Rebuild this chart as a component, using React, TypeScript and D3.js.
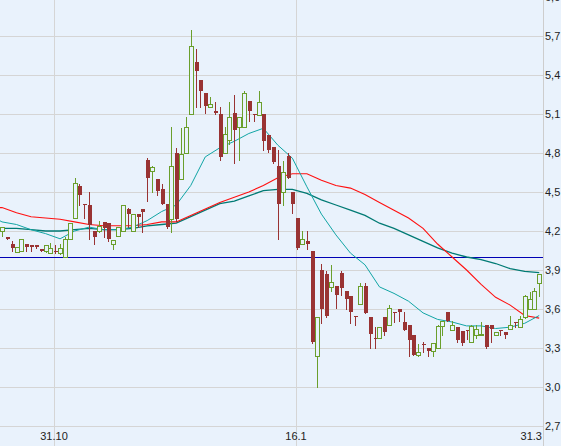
import * as d3 from 'd3';

// daily candles, oldest first (price in EUR)
const opens = [
  4.20, 4.15, 4.10, 4.04, 4.05, 4.10, 4.09, 4.09, 4.06, 4.05,
  4.03, 4.05, 4.03, 4.00, 4.14, 4.30, 4.55, 4.41, 4.40, 4.20,
  4.20, 4.27, 4.26, 4.10, 4.16, 4.20, 4.37, 4.20, 4.33, 4.37,
  4.75, 4.66, 4.60, 4.52, 4.41, 4.29, 4.80, 4.60, 4.80, 5.10,
  5.50, 5.36, 5.26, 5.15, 5.12, 5.10, 4.80, 4.90, 5.11, 5.00,
  5.00, 5.20, 5.10, 5.09, 5.10, 4.94, 4.85, 4.70, 4.50, 4.78,
  4.50, 4.30, 4.10, 4.12, 4.05, 3.24, 3.90, 3.87, 3.77, 3.78,
  3.88, 3.74, 3.70, 3.55, 3.64, 3.78, 3.54, 3.38, 3.38, 3.54,
  3.48, 3.58, 3.60, 3.50, 3.48, 3.40, 3.25, 3.33, 3.30, 3.28,
  3.30, 3.47, 3.58, 3.44, 3.46, 3.43, 3.44, 3.35, 3.40, 3.40,
  3.48, 3.48, 3.40, 3.44, 3.42, 3.45, 3.50, 3.46, 3.54, 3.60,
  3.60, 3.80,
];
const highs = [
  4.23, 4.15, 4.12, 4.08, 4.14, 4.10, 4.09, 4.09, 4.06, 4.09,
  4.11, 4.09, 4.10, 4.15, 4.26, 4.61, 4.56, 4.41, 4.50, 4.20,
  4.28, 4.27, 4.26, 4.13, 4.23, 4.40, 4.38, 4.33, 4.33, 4.37,
  4.76, 4.70, 4.60, 4.56, 4.41, 5.00, 4.84, 4.99, 5.08, 5.75,
  5.60, 5.36, 5.26, 5.23, 5.19, 5.15, 5.00, 5.19, 5.25, 5.08,
  5.28, 5.20, 5.10, 5.28, 5.10, 4.94, 4.85, 4.82, 4.74, 4.80,
  4.50, 4.30, 4.20, 4.20, 4.05, 3.54, 3.95, 3.89, 3.94, 3.78,
  3.89, 3.74, 3.70, 3.55, 3.80, 3.80, 3.54, 3.46, 3.46, 3.54,
  3.63, 3.58, 3.60, 3.58, 3.48, 3.40, 3.33, 3.35, 3.30, 3.34,
  3.48, 3.51, 3.58, 3.51, 3.46, 3.43, 3.44, 3.48, 3.48, 3.50,
  3.48, 3.48, 3.42, 3.44, 3.42, 3.55, 3.50, 3.55, 3.71, 3.73,
  3.76, 3.87,
];
const lows = [
  4.16, 4.14, 4.05, 4.04, 4.05, 4.05, 4.05, 4.07, 4.05, 4.04,
  4.03, 4.03, 4.02, 4.00, 4.14, 4.30, 4.40, 4.30, 4.14, 4.10,
  4.19, 4.15, 4.12, 4.06, 4.16, 4.20, 4.23, 4.20, 4.23, 4.19,
  4.43, 4.50, 4.48, 4.41, 4.22, 4.19, 4.28, 4.60, 4.80, 5.10,
  5.15, 5.15, 5.11, 5.15, 5.10, 4.75, 4.80, 4.87, 4.72, 4.75,
  5.00, 5.05, 5.05, 5.09, 4.82, 4.81, 4.72, 4.14, 4.40, 4.61,
  4.34, 4.06, 4.10, 4.06, 3.34, 3.00, 3.49, 3.54, 3.74, 3.61,
  3.71, 3.60, 3.49, 3.48, 3.64, 3.57, 3.30, 3.30, 3.38, 3.40,
  3.48, 3.50, 3.51, 3.44, 3.24, 3.25, 3.24, 3.27, 3.24, 3.24,
  3.30, 3.40, 3.51, 3.44, 3.35, 3.32, 3.37, 3.35, 3.38, 3.40,
  3.30, 3.35, 3.40, 3.40, 3.38, 3.45, 3.46, 3.46, 3.53, 3.60,
  3.60, 3.70,
];
const closes = [
  4.23, 4.14, 4.07, 4.08, 4.14, 4.08, 4.08, 4.08, 4.05, 4.09,
  4.07, 4.04, 4.07, 4.14, 4.26, 4.57, 4.48, 4.40, 4.25, 4.15,
  4.24, 4.22, 4.14, 4.13, 4.23, 4.40, 4.33, 4.33, 4.31, 4.35,
  4.61, 4.69, 4.51, 4.41, 4.23, 4.70, 4.29, 4.79, 5.00, 5.62,
  5.43, 5.28, 5.16, 5.18, 5.11, 4.77, 4.95, 5.08, 4.98, 5.08,
  5.26, 5.12, 5.09, 5.19, 4.89, 4.82, 4.73, 4.41, 4.65, 4.61,
  4.41, 4.07, 4.14, 4.10, 3.35, 3.54, 3.60, 3.55, 3.81, 3.71,
  3.76, 3.68, 3.58, 3.54, 3.78, 3.57, 3.41, 3.37, 3.46, 3.42,
  3.61, 3.57, 3.58, 3.44, 3.36, 3.25, 3.27, 3.32, 3.28, 3.34,
  3.47, 3.51, 3.51, 3.48, 3.36, 3.34, 3.43, 3.47, 3.45, 3.41,
  3.31, 3.45, 3.42, 3.43, 3.40, 3.48, 3.49, 3.52, 3.70, 3.68,
  3.74, 3.87,
];

// moving averages, read at every third session
const maIndex = [
  -0.5, 0, 3, 6, 9, 12, 15, 18, 21, 24, 27, 30, 33, 36, 39, 42, 45, 48, 51,
  54, 57, 60, 63, 66, 69, 72, 75, 78, 81, 84, 87, 90, 93, 96, 99, 102, 105, 108, 111,
];
const maRed = [
  4.38, 4.38, 4.34, 4.31, 4.30, 4.29, 4.27, 4.25, 4.24, 4.24, 4.24, 4.25, 4.27, 4.27, 4.32,
  4.37, 4.42, 4.46, 4.50, 4.55, 4.61, 4.64, 4.64, 4.59, 4.55, 4.53, 4.48, 4.42, 4.36,
  4.30, 4.22, 4.10, 4.00, 3.90, 3.79, 3.69, 3.63, 3.55, 3.53,
];
const maLong = [
  4.22, 4.22, 4.22, 4.21, 4.20, 4.20, 4.21, 4.22, 4.21, 4.21, 4.22, 4.24, 4.25, 4.26, 4.31,
  4.36, 4.41, 4.43, 4.47, 4.51, 4.52, 4.52, 4.49, 4.44, 4.40, 4.36, 4.32, 4.26, 4.22,
  4.17, 4.12, 4.07, 4.03, 4.00, 3.98, 3.95, 3.91, 3.89, 3.88,
];
const maShort = [
  4.28, 4.27, 4.25, 4.21, 4.18, 4.14, 4.20, 4.23, 4.21, 4.21, 4.23, 4.28, 4.35, 4.40, 4.55,
  4.77, 4.84, 4.89, 4.95, 4.99, 4.86, 4.76, 4.54, 4.33, 4.17, 4.03, 3.94, 3.77, 3.72,
  3.66, 3.57, 3.52, 3.50, 3.47, 3.47, 3.45, 3.46, 3.49, 3.55,
];

const levelPrice = 4.0;
const yTickValues = [2.7, 3.0, 3.3, 3.6, 3.9, 4.2, 4.5, 4.8, 5.1, 5.4, 5.7, 6.0];
const xTickLabels = ['31.10', '16.1', '31.3'];
const xTickIndex = [10.75, 60.75, 110.75];

const W = 561;
const H = 446;
const axisX = 543;
const plotBottom = 426;

const UP = '#6a9f2c';
const DOWN = '#993333';

export default function App() {
  const x = d3.scaleLinear().domain([0, 111]).range([2, 539.2]);
  const y = d3.scaleLinear().domain([2.7, 6.0]).range([plotBottom, -3]);
  const fmt = d3.format('.1f');

  const maLine = (vals: number[]) =>
    d3.line<number>()
      .x((_, i) => x(maIndex[i]))
      .y(d => y(d))(vals) || '';

  const candles = opens.map((o, i) => {
    const c = closes[i];
    const up = c >= o;
    const cx = Math.round(x(i));
    const top = Math.round(y(Math.max(o, c)));
    const bot = Math.round(y(Math.min(o, c)));
    return { i, up, cx, top, bot, hi: Math.round(y(highs[i])), lo: Math.round(y(lows[i])) };
  });

  return (
    <svg width={W} height={H} style={{ position: 'absolute', left: 0, top: 0, display: 'block' }}
      fontFamily="'Liberation Sans', Arial, sans-serif">
      <defs>
        <clipPath id="plot">
          <rect x={0} y={0} width={axisX} height={plotBottom + 1} />
        </clipPath>
      </defs>
      <rect width={W} height={H} fill="#e9f2fc" />

      {/* grid */}
      <g shapeRendering="crispEdges" stroke="#d5d5d5" strokeWidth={1}>
        {yTickValues.map(v => (
          <line key={v} x1={0} x2={axisX} y1={Math.round(y(v)) + 0.5} y2={Math.round(y(v)) + 0.5} />
        ))}
        {xTickIndex.filter(t => x(t) < axisX - 8).map(t => (
          <line key={t} x1={Math.round(x(t)) + 0.5} x2={Math.round(x(t)) + 0.5} y1={0} y2={H} />
        ))}
        <line x1={axisX + 0.5} x2={axisX + 0.5} y1={0} y2={H} stroke="#cdcdcd" />
      </g>

      <g clipPath="url(#plot)">
        {/* level line */}
        <line x1={0} x2={axisX} y1={Math.round(y(levelPrice)) + 0.5} y2={Math.round(y(levelPrice)) + 0.5}
          stroke="#0000b4" strokeWidth={1} shapeRendering="crispEdges" />

        {/* moving averages */}
        <path d={maLine(maLong)} fill="none" stroke="#007a74" strokeWidth={1.3} />
        <path d={maLine(maRed)} fill="none" stroke="#ff1010" strokeWidth={1.1} />
        <path d={maLine(maShort)} fill="none" stroke="#11a5a5" strokeWidth={1} />

        {/* candles */}
        <g shapeRendering="crispEdges">
          {candles.map(c => (
            <g key={c.i}>
              <line x1={c.cx + 0.5} x2={c.cx + 0.5} y1={c.hi} y2={c.lo + 1}
                stroke={c.up ? UP : DOWN} strokeWidth={1} />
              {c.up ? (
                <rect x={c.cx - 1.5} y={c.top + 0.5} width={4} height={Math.max(1, c.bot - c.top)}
                  fill="#e9f2fc" stroke={UP} strokeWidth={1} />
              ) : (
                <rect x={c.cx - 1} y={c.top} width={4} height={Math.max(1, c.bot - c.top)} fill={DOWN} />
              )}
            </g>
          ))}
        </g>
      </g>

      {/* y labels */}
      <g fontSize={11} fill="#222">
        {yTickValues.map(v => (
          <text key={v} x={axisX + 2} y={y(v)} dy="0.35em">{fmt(v).replace('.', ',')}</text>
        ))}
      </g>

      {/* x labels */}
      <g fontSize={11} fill="#222">
        {xTickLabels.map((lab, k) => {
          const px = x(xTickIndex[k]);
          const overflow = px + 12 > axisX;
          return (
            <text key={lab} x={overflow ? axisX - 1 : px} y={440}
              textAnchor={overflow ? 'end' : 'middle'}>{lab}</text>
          );
        })}
      </g>
    </svg>
  );
}
